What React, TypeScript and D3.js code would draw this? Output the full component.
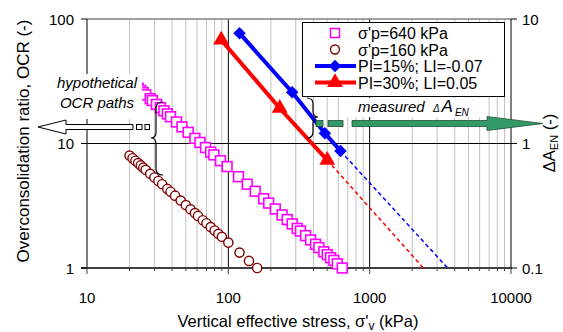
import { useEffect, useRef } from 'react';
import * as d3 from 'd3';

// sigma'p = 640 kPa path (stress kPa, OCR)
const sq640Stress = [20, 21, 22, 23, 24, 25, 26, 28, 29, 31, 33, 35, 37, 39, 43, 47, 52, 58, 63, 69, 75, 79, 88, 98, 118, 136, 155, 178, 193, 215, 240, 261, 283, 307, 324, 352, 382, 414, 437, 474, 501, 529, 558, 590, 640];
const sq640Ocr = [32, 30.5, 29.1, 27.8, 26.7, 25.6, 24.6, 22.9, 22.1, 20.6, 19.4, 18.3, 17.3, 16.4, 14.9, 13.6, 12.3, 11.0, 10.2, 9.28, 8.53, 8.1, 7.27, 6.53, 5.42, 4.71, 4.13, 3.6, 3.32, 2.98, 2.67, 2.45, 2.26, 2.08, 1.98, 1.82, 1.68, 1.55, 1.46, 1.35, 1.28, 1.21, 1.15, 1.08, 1.0];

// sigma'p = 160 kPa path
const ci160Stress = [20, 21, 22, 23, 24, 25, 26, 28, 30, 32, 34, 37, 39, 42, 46, 50, 54, 58, 61, 66, 70, 75, 80, 85, 90, 100, 120, 140, 160];
const ci160Ocr = [8, 7.62, 7.27, 6.96, 6.67, 6.4, 6.15, 5.71, 5.33, 5, 4.71, 4.32, 4.1, 3.81, 3.48, 3.2, 2.96, 2.76, 2.62, 2.42, 2.29, 2.13, 2, 1.88, 1.78, 1.6, 1.33, 1.14, 1];

// measured Delta A_EN (right axis)
const pi15Stress = [120, 283, 482, 622];
const pi15Da = [7.7, 2.58, 1.21, 0.87];
const pi30Stress = [89, 231, 501];
const pi30Da = [6.8, 1.92, 0.735];
const pi15TrendStress = [622, 3560];
const pi15TrendDa = [0.87, 0.1];
const pi30TrendStress = [501, 2400];
const pi30TrendDa = [0.735, 0.1];

const xTicks = [10, 100, 1000, 10000];
const yTicksLeft = [1, 10, 100];
const yTicksRight = [0.1, 1, 10];
const legendLabels = ["σ'p=640 kPa", "σ'p=160 kPa", 'PI=15%; LI=-0.07', 'PI=30%; LI=0.05'];

const W = 563;
const H = 332;
const FONT = '"Liberation Sans", Arial, sans-serif';

export default function App() {
  const svgRef = useRef<SVGSVGElement>(null);

  useEffect(() => {
    if (!svgRef.current) return;
    const svg = d3.select(svgRef.current);
    svg.selectAll('*').remove();

    const left = 87, right = 511, top = 19, bottom = 268;
    const x = d3.scaleLog().domain([10, 10000]).range([left, right]);
    const yL = d3.scaleLog().domain([1, 100]).range([bottom, top]);
    const yR = d3.scaleLog().domain([0.1, 10]).range([bottom, top]);

    const isPow10 = (v: number) => Math.abs(Math.log10(v) - Math.round(Math.log10(v))) < 1e-9;
    const minor = x.ticks().filter((v) => !isPow10(v));

    svg.append('rect').attr('width', W).attr('height', H).attr('fill', '#fff');

    // minor vertical gridlines
    svg.selectAll('line.minor')
      .data(minor)
      .join('line')
      .attr('x1', (d) => x(d)).attr('x2', (d) => x(d))
      .attr('y1', top).attr('y2', bottom)
      .attr('stroke', '#c0c0c0').attr('stroke-width', 1);

    // major gridlines
    svg.selectAll('line.majx')
      .data([100, 1000])
      .join('line')
      .attr('x1', (d) => x(d)).attr('x2', (d) => x(d))
      .attr('y1', top).attr('y2', bottom)
      .attr('stroke', '#000').attr('stroke-width', 1);
    svg.append('line')
      .attr('x1', left).attr('x2', right)
      .attr('y1', yL(10)).attr('y2', yL(10))
      .attr('stroke', '#000').attr('stroke-width', 1);

    // frame / axes
    svg.append('line').attr('x1', left).attr('x2', right).attr('y1', top).attr('y2', top)
      .attr('stroke', '#808080').attr('stroke-width', 1.5);
    svg.append('line').attr('x1', left).attr('x2', left).attr('y1', top).attr('y2', bottom)
      .attr('stroke', '#000').attr('stroke-width', 1);
    svg.append('line').attr('x1', right).attr('x2', right).attr('y1', top).attr('y2', bottom)
      .attr('stroke', '#000').attr('stroke-width', 1);
    svg.append('line').attr('x1', left - 6).attr('x2', right + 1).attr('y1', bottom).attr('y2', bottom)
      .attr('stroke', '#404040').attr('stroke-width', 2);

    // ticks
    svg.selectAll('line.bt')
      .data(x.ticks())
      .join('line')
      .attr('x1', (d) => x(d)).attr('x2', (d) => x(d))
      .attr('y1', bottom).attr('y2', (d) => bottom + (isPow10(d) ? 6 : 3))
      .attr('stroke', '#404040').attr('stroke-width', 1);
    svg.selectAll('line.lt')
      .data(yTicksLeft)
      .join('line')
      .attr('x1', left - 6).attr('x2', left)
      .attr('y1', (d) => yL(d)).attr('y2', (d) => yL(d))
      .attr('stroke', '#000');
    svg.selectAll('line.rt')
      .data(yTicksRight)
      .join('line')
      .attr('x1', right).attr('x2', right + 6)
      .attr('y1', (d) => yR(d)).attr('y2', (d) => yR(d))
      .attr('stroke', '#000');

    // tick labels
    svg.selectAll('text.xt')
      .data(xTicks)
      .join('text')
      .attr('x', (d) => x(d)).attr('y', 303)
      .attr('text-anchor', 'middle')
      .attr('font-family', FONT).attr('font-size', 15)
      .text((d) => String(d));
    svg.selectAll('text.ylt')
      .data(yTicksLeft)
      .join('text')
      .attr('x', 74).attr('y', (d) => yL(d) + 5.5)
      .attr('text-anchor', 'end')
      .attr('font-family', FONT).attr('font-size', 15)
      .text((d) => String(d));
    svg.selectAll('text.yrt')
      .data(yTicksRight)
      .join('text')
      .attr('x', 522).attr('y', (d) => yR(d) + 5.5)
      .attr('font-family', FONT).attr('font-size', 15)
      .text((d) => String(d));

    // axis titles
    const xt = svg.append('text')
      .attr('x', 298).attr('y', 327)
      .attr('text-anchor', 'middle')
      .attr('font-family', FONT).attr('font-size', 16.5);
    xt.append('tspan').text('Vertical effective stress, σ\'');
    xt.append('tspan').attr('font-size', 12).attr('dy', 3).text('v');
    xt.append('tspan').attr('dy', -3).text(' (kPa)');

    svg.append('text')
      .attr('transform', 'translate(29,141) rotate(-90)')
      .attr('text-anchor', 'middle')
      .attr('font-family', FONT).attr('font-size', 17)
      .text('Overconsolidation ratio, OCR (-)');

    const rt = svg.append('text')
      .attr('transform', 'translate(555,143) rotate(-90)')
      .attr('text-anchor', 'middle')
      .attr('font-family', FONT).attr('font-size', 16.5);
    rt.append('tspan').text('ΔA');
    rt.append('tspan').attr('font-size', 11).attr('dy', 3).text('EN');
    rt.append('tspan').attr('dy', -3).text(' (-)');

    // dashed trend extensions
    const lineDa = d3.line<[number, number]>().x((d) => x(d[0])).y((d) => yR(d[1]));
    svg.append('path')
      .attr('d', lineDa(d3.zip(pi15TrendStress, pi15TrendDa) as [number, number][]))
      .attr('fill', 'none').attr('stroke', '#0000ff').attr('stroke-width', 1.5).attr('stroke-dasharray', '4,3');
    svg.append('path')
      .attr('d', lineDa(d3.zip(pi30TrendStress, pi30TrendDa) as [number, number][]))
      .attr('fill', 'none').attr('stroke', '#ff0000').attr('stroke-width', 1.5).attr('stroke-dasharray', '4,3');

    // circles (160 kPa)
    svg.selectAll('circle.c160')
      .data(d3.zip(ci160Stress, ci160Ocr))
      .join('circle')
      .attr('cx', (d) => x(d[0])).attr('cy', (d) => yL(d[1]))
      .attr('r', 4.6)
      .attr('fill', '#fff').attr('stroke', '#800000').attr('stroke-width', 1.4);

    // squares (640 kPa)
    const sq = 9.8;
    svg.selectAll('rect.s640')
      .data(d3.zip(sq640Stress, sq640Ocr))
      .join('rect')
      .attr('x', (d) => x(d[0]) - sq / 2).attr('y', (d) => yL(d[1]) - sq / 2)
      .attr('width', sq).attr('height', sq)
      .attr('fill', '#fff').attr('stroke', '#ff00ff').attr('stroke-width', 1.6);

    // measured lines
    const diamond = d3.symbol().type(d3.symbolSquare).size(78);
    const tri = d3.symbol().type(d3.symbolTriangle).size(110);
    svg.append('path')
      .attr('d', lineDa(d3.zip(pi30Stress, pi30Da) as [number, number][]))
      .attr('fill', 'none').attr('stroke', '#ff0000').attr('stroke-width', 4);
    svg.selectAll('path.tri')
      .data(d3.zip(pi30Stress, pi30Da))
      .join('path')
      .attr('d', tri)
      .attr('transform', (d) => 'translate(' + x(d[0]) + ',' + yR(d[1]) + ')')
      .attr('fill', '#ff0000');
    svg.append('path')
      .attr('d', lineDa(d3.zip(pi15Stress, pi15Da) as [number, number][]))
      .attr('fill', 'none').attr('stroke', '#0000ff').attr('stroke-width', 4);
    svg.selectAll('path.dia')
      .data(d3.zip(pi15Stress, pi15Da))
      .join('path')
      .attr('d', diamond)
      .attr('transform', (d) => 'translate(' + x(d[0]) + ',' + yR(d[1]) + ') rotate(45)')
      .attr('fill', '#0000ff');

    // legend
    const lg = svg.append('g');
    lg.append('rect').attr('x', 302.5).attr('y', 22.5).attr('width', 202).attr('height', 74)
      .attr('fill', '#fff').attr('stroke', '#000').attr('stroke-width', 1);
    const rowY = [33, 49.5, 66, 82.5];
    lg.append('rect').attr('x', 330.5).attr('y', rowY[0] - 4.5).attr('width', 9).attr('height', 9)
      .attr('fill', '#fff').attr('stroke', '#ff00ff').attr('stroke-width', 1.5);
    lg.append('circle').attr('cx', 335).attr('cy', rowY[1]).attr('r', 4.5)
      .attr('fill', '#fff').attr('stroke', '#800000').attr('stroke-width', 1.4);
    lg.append('line').attr('x1', 315).attr('x2', 356).attr('y1', rowY[2]).attr('y2', rowY[2])
      .attr('stroke', '#0000ff').attr('stroke-width', 4);
    lg.append('path').attr('d', diamond).attr('transform', 'translate(335,' + rowY[2] + ') rotate(45)').attr('fill', '#0000ff');
    lg.append('line').attr('x1', 315).attr('x2', 356).attr('y1', rowY[3]).attr('y2', rowY[3])
      .attr('stroke', '#ff0000').attr('stroke-width', 4);
    lg.append('path').attr('d', tri).attr('transform', 'translate(335,' + rowY[3] + ')').attr('fill', '#ff0000');
    lg.selectAll('text')
      .data(legendLabels)
      .join('text')
      .attr('x', 358).attr('y', (_, i) => rowY[i] + 6)
      .attr('font-family', FONT).attr('font-size', 16)
      .text((d) => d);

    // "hypothetical OCR paths" annotation
    svg.append('rect').attr('x', 52).attr('y', 74).attr('width', 90).attr('height', 45).attr('fill', '#fff');
    svg.selectAll('text.hyp')
      .data(['hypothetical', 'OCR paths'])
      .join('text')
      .attr('x', 97).attr('y', (_, i) => 88 + i * 20)
      .attr('text-anchor', 'middle')
      .attr('font-family', FONT).attr('font-size', 15).attr('font-style', 'italic')
      .text((d) => d);
    svg.append('path')
      .attr('d', 'M38,127 L66,120 L66,124.5 L133,124.5 L133,129.5 L66,129.5 L66,134 Z')
      .attr('fill', '#fff').attr('stroke', '#000').attr('stroke-width', 1);
    svg.append('rect').attr('x', 136.5).attr('y', 124.5).attr('width', 5.5).attr('height', 5)
      .attr('fill', '#fff').attr('stroke', '#000').attr('stroke-width', 1);
    svg.append('rect').attr('x', 145).attr('y', 124.5).attr('width', 4.5).attr('height', 5)
      .attr('fill', '#fff').attr('stroke', '#000').attr('stroke-width', 1);
    svg.append('path')
      .attr('d', 'M163,102 Q156,102 156,108 L156,132 Q156,138 151,138 Q156,138 156,144 L156,169 Q156,175 163,175')
      .attr('fill', 'none').attr('stroke', '#000').attr('stroke-width', 1.2);

    // "measured ΔA_EN" annotation
    svg.append('rect').attr('x', 340).attr('y', 98).attr('width', 147).attr('height', 19).attr('fill', '#fff');
    const mt = svg.append('text').attr('x', 358).attr('y', 112)
      .attr('font-family', FONT).attr('font-style', 'italic').attr('font-size', 15);
    mt.append('tspan').text('measured ');
    mt.append('tspan').attr('font-size', 10).attr('dx', 4).text('Δ');
    mt.append('tspan').attr('font-size', 17).attr('dx', 2).text('A');
    mt.append('tspan').attr('font-size', 10).attr('dx', 2).attr('dy', 4).text('EN');
    svg.append('path')
      .attr('d', 'M307,98 Q313,98 313,104 L313,111 Q313,117 318,117 Q313,117 313,123 L313,132 Q313,138 307,138')
      .attr('fill', 'none').attr('stroke', '#000').attr('stroke-width', 1.2);
    const green = '#339966';
    svg.append('rect').attr('x', 316).attr('y', 120.5).attr('width', 7).attr('height', 6)
      .attr('fill', green).attr('stroke', '#1f4f35').attr('stroke-width', 0.8);
    svg.append('rect').attr('x', 328).attr('y', 120.5).attr('width', 15).attr('height', 6)
      .attr('fill', green).attr('stroke', '#1f4f35').attr('stroke-width', 0.8);
    svg.append('path')
      .attr('d', 'M352,120.5 L487,120.5 L487,116.5 L543,123.5 L487,130.5 L487,126.5 L352,126.5 Z')
      .attr('fill', green).attr('stroke', '#1f4f35').attr('stroke-width', 0.8);
  }, []);

  return (
    <svg
      ref={svgRef}
      width={W}
      height={H}
      viewBox={'0 0 ' + W + ' ' + H}
      style={{ position: 'absolute', left: 0, top: 0 }}
    />
  );
}
